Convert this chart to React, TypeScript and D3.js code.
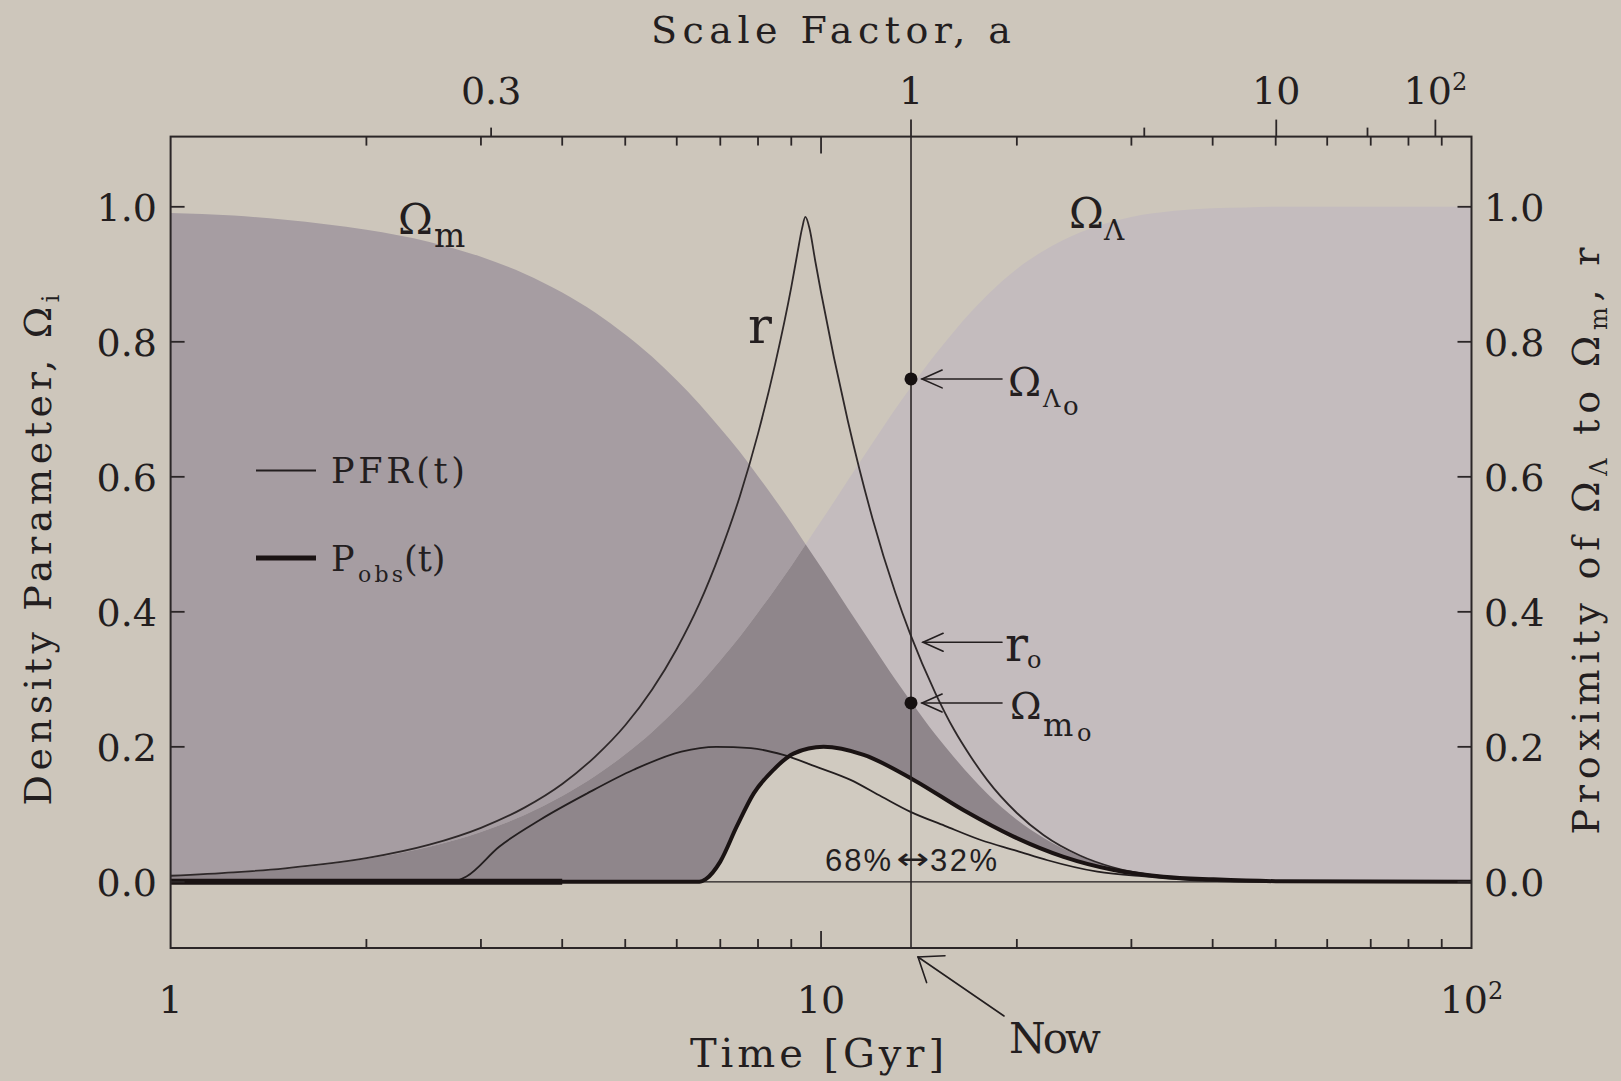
import React from "react";
import * as d3 from "d3";

// ---------- data ----------
// time samples (Gyr) for the density parameters
const times = [1, 1.25, 1.5, 2, 2.5, 3, 3.5, 4, 4.5, 5, 5.5, 6, 6.5, 7, 7.5, 8, 8.5, 9, 9.5, 10, 11, 12, 13, 13.7, 15, 16, 17, 18, 20, 22, 25, 28, 30, 35, 40, 45, 50, 60, 70, 80, 100];
const omegaM = [0.991, 0.987, 0.981, 0.966, 0.948, 0.926, 0.901, 0.873, 0.843, 0.811, 0.778, 0.743, 0.708, 0.672, 0.637, 0.601, 0.566, 0.532, 0.498, 0.466, 0.405, 0.35, 0.3, 0.269, 0.218, 0.185, 0.156, 0.131, 0.092, 0.065, 0.038, 0.022, 0.015, 0.006, 0.002, 0.001, 0.0004, 0, 0, 0, 0];
const omegaL = [0.009, 0.013, 0.019, 0.034, 0.052, 0.074, 0.099, 0.127, 0.157, 0.189, 0.222, 0.257, 0.292, 0.328, 0.363, 0.399, 0.434, 0.468, 0.502, 0.534, 0.595, 0.65, 0.7, 0.731, 0.782, 0.815, 0.844, 0.869, 0.908, 0.935, 0.962, 0.978, 0.985, 0.994, 0.998, 0.999, 1, 1, 1, 1, 1];

// proximity r
const rTimes = [1, 1.25, 1.5, 2, 2.5, 3, 3.5, 4, 4.5, 5, 5.5, 6, 6.5, 7, 7.5, 8, 8.5, 9, 9.2, 9.35, 9.46, 9.6, 9.8, 10, 11, 12, 13, 13.7, 15, 16, 17, 18, 20, 22, 25, 28, 30, 35, 40, 45, 50, 60, 100];
const rValues = [0.009, 0.014, 0.02, 0.035, 0.055, 0.08, 0.11, 0.145, 0.186, 0.232, 0.285, 0.345, 0.412, 0.488, 0.571, 0.664, 0.767, 0.881, 0.932, 0.968, 0.985, 0.968, 0.919, 0.873, 0.682, 0.538, 0.429, 0.368, 0.279, 0.226, 0.185, 0.151, 0.102, 0.069, 0.039, 0.022, 0.015, 0.006, 0.002, 0.001, 0.0004, 0, 0];

// planet formation rate PFR(t)
const pfrTimes = [1, 2.7, 2.85, 3.2, 3.7, 4.37, 5.15, 6.1, 6.9, 7.8, 8.75, 9.8, 11.1, 12.4, 13.7, 15.5, 17.6, 20, 22.3, 26.6, 31.7, 38, 50, 100];
const pfrValues = [0, 0, 0.008, 0.052, 0.092, 0.131, 0.166, 0.193, 0.2, 0.198, 0.188, 0.171, 0.151, 0.126, 0.104, 0.083, 0.062, 0.046, 0.032, 0.015, 0.0076, 0.002, 0, 0];

// observer probability Pobs(t)
const pobsTimes = [1, 6.5, 6.65, 7.0, 7.42, 7.88, 8.45, 9.07, 10.09, 11.63, 13.88, 16.57, 19.77, 23.6, 28.2, 33.6, 40.1, 50, 100];
const pobsValues = [0, 0, 0.004, 0.03, 0.082, 0.131, 0.166, 0.19, 0.2, 0.188, 0.151, 0.106, 0.067, 0.037, 0.0175, 0.0076, 0.0037, 0.001, 0];
const pobsThickSpan = [1, 4];

// axes
const densityTicks = [0, 0.2, 0.4, 0.6, 0.8, 1.0];
const densityTickLabels = ["0.0", "0.2", "0.4", "0.6", "0.8", "1.0"];
const timeLabelValues = [1, 10, 100];
const timeLabelBase = ["1", "10", "10"];
const timeLabelSup = ["", "", "2"];
const scaleFactorValues = [0.3, 1, 3, 10, 30, 100];
const scaleFactorTimes = [3.11, 13.75, 31.4, 50.1, 69.2, 88.0];
const scaleFactorMajor = [false, true, false, true, false, true];
const scaleFactorBase = ["0.3", "1", "", "10", "", "10"];
const scaleFactorSup = ["", "", "", "", "", "2"];

// present-day markers
const nowTime = 13.75;
const omegaL0 = 0.745;
const omegaM0 = 0.265;
const r0Arrow = 0.355;

// ---------- styling ----------
const BG = "#cdc6bb";
const C_M = "#a69da2";
const C_L = "#c4bcbe";
const C_ML = "#8f868b";
const C_POBS = "#d0cac0";
const INK = "#231e1f";
const SERIF = "'DejaVu Serif', 'Liberation Serif', serif";
const SANS = "'Liberation Sans', 'DejaVu Sans', sans-serif";

type P = [number, number];
const pair = (ts: number[], vs: number[]): P[] => ts.map((t, i) => [t, vs[i]] as P);

function Arrow({ tip, tail, len = 22, ang = 24, w = 1.6 }: { tip: P; tail: P; len?: number; ang?: number; w?: number }) {
  const th = Math.atan2(tail[1] - tip[1], tail[0] - tip[0]);
  const a = (ang * Math.PI) / 180;
  const a1: P = [tip[0] + len * Math.cos(th + a), tip[1] + len * Math.sin(th + a)];
  const a2: P = [tip[0] + len * Math.cos(th - a), tip[1] + len * Math.sin(th - a)];
  return (
    <g stroke={INK} strokeWidth={w} fill="none" strokeLinecap="round">
      <line x1={tail[0]} y1={tail[1]} x2={tip[0]} y2={tip[1]} />
      <polyline points={`${a1[0]},${a1[1]} ${tip[0]},${tip[1]} ${a2[0]},${a2[1]}`} />
    </g>
  );
}

export default function App() {
  const x = d3.scaleLog().domain([1, 100]).range([170.6, 1471.5]);
  const y = d3.scaleLinear().domain([-0.098, 1.104]).range([948, 136.6]);

  const area = d3
    .area<P>()
    .x((d) => x(d[0]))
    .y0(y(0))
    .y1((d) => y(d[1]))
    .curve(d3.curveMonotoneX);
  const line = d3
    .line<P>()
    .x((d) => x(d[0]))
    .y((d) => y(d[1]))
    .curve(d3.curveMonotoneX);

  const mPts = pair(times, omegaM);
  const lPts = pair(times, omegaL);
  const rPts = pair(rTimes, rValues);
  const pfrPts = pair(pfrTimes, pfrValues);
  const pobsPts = pair(pobsTimes, pobsValues);

  const x0 = x.range()[0];
  const x1 = x.range()[1];
  const yTop = y(y.domain()[1]);
  const yBot = y(y.domain()[0]);
  const xNow = x(nowTime);

  const timeTicks = x.ticks().filter((t) => t > 1 && t < 100);

  return (
    <div>
      <style>{`body{margin:0;background:${BG};}`}</style>
      <svg width={1621} height={1081} style={{ position: "absolute", left: 0, top: 0, display: "block" }}>
        <rect x={0} y={0} width={1621} height={1081} fill={BG} />
        <defs>
          <clipPath id="plotClip">
            <rect x={x0} y={yTop} width={x1 - x0} height={yBot - yTop} />
          </clipPath>
          <clipPath id="mClip">
            <path d={area(mPts) || ""} />
          </clipPath>
        </defs>

        <g clipPath="url(#plotClip)">
          <path d={area(mPts) || ""} fill={C_M} />
          <path d={area(lPts) || ""} fill={C_L} />
          <path d={area(lPts) || ""} fill={C_ML} clipPath="url(#mClip)" />
          <path d={area(pobsPts) || ""} fill={C_POBS} />

          {/* zero line */}
          <line x1={x0} x2={x1} y1={y(0)} y2={y(0)} stroke={INK} strokeWidth={1.4} />

          <path d={line(rPts) || ""} fill="none" stroke="#2e2829" strokeWidth={1.8} />
          <path d={line(pfrPts) || ""} fill="none" stroke={INK} strokeWidth={1.8} />
          <path d={line(pobsPts) || ""} fill="none" stroke="#1a1313" strokeWidth={4} strokeLinejoin="round" />
          <line x1={x(pobsThickSpan[0])} x2={x(pobsThickSpan[1])} y1={y(0)} y2={y(0)} stroke="#1a1313" strokeWidth={6} />
        </g>

        {/* now line */}
        <line x1={xNow} x2={xNow} y1={yTop} y2={yBot} stroke="#2b2627" strokeWidth={1.6} />
        <circle cx={xNow} cy={y(omegaL0)} r={6.5} fill="#151010" />
        <circle cx={xNow} cy={y(omegaM0)} r={6.5} fill="#151010" />
        <Arrow tip={[xNow + 11, y(omegaL0)]} tail={[xNow + 91, y(omegaL0)]} />
        <Arrow tip={[xNow + 12, y(r0Arrow)]} tail={[xNow + 91, y(r0Arrow)]} />
        <Arrow tip={[xNow + 11, y(omegaM0)]} tail={[xNow + 91, y(omegaM0)]} />
        <Arrow tip={[xNow + 7, yBot + 9]} tail={[xNow + 93, yBot + 68]} len={27} ang={37} />

        {/* frame */}
        <rect x={x0} y={yTop} width={x1 - x0} height={yBot - yTop} fill="none" stroke="#2b2627" strokeWidth={2} />

        {/* time ticks, bottom and top */}
        <g stroke="#2b2627" strokeWidth={1.8}>
          {timeTicks.map((t) => {
            const L = t === 10 ? 17 : 9;
            return (
              <g key={"tt" + t}>
                <line x1={x(t)} x2={x(t)} y1={yBot} y2={yBot - L} />
                <line x1={x(t)} x2={x(t)} y1={yTop} y2={yTop + L} />
              </g>
            );
          })}
          {scaleFactorTimes.map((t, i) => (
            <line key={"sf" + i} x1={x(t)} x2={x(t)} y1={yTop} y2={yTop - (scaleFactorMajor[i] ? 17 : 9)} />
          ))}
          {densityTicks.map((v) => (
            <g key={"dt" + v}>
              <line x1={x0} x2={x0 + 14} y1={y(v)} y2={y(v)} />
              <line x1={x1} x2={x1 - 14} y1={y(v)} y2={y(v)} />
            </g>
          ))}
        </g>

        {/* tick labels */}
        <g fontFamily={SERIF} fill={INK} fontSize={38}>
          {densityTicks.map((v, i) => (
            <g key={"dl" + v}>
              <text x={157} y={y(v) + 14} textAnchor="end">{densityTickLabels[i]}</text>
              <text x={1484} y={y(v) + 14} textAnchor="start">{densityTickLabels[i]}</text>
            </g>
          ))}
          {timeLabelValues.map((t, i) => (
            <text key={"tl" + t} x={x(t)} y={1013} textAnchor="middle">
              {timeLabelBase[i]}
              {timeLabelSup[i] && (
                <tspan fontSize={24} dy={-14}>{timeLabelSup[i]}</tspan>
              )}
            </text>
          ))}
          {scaleFactorTimes.map((t, i) =>
            scaleFactorBase[i] ? (
              <text key={"sl" + i} x={x(t)} y={104} textAnchor="middle">
                {scaleFactorBase[i]}
                {scaleFactorSup[i] && (
                  <tspan fontSize={24} dy={-14}>{scaleFactorSup[i]}</tspan>
                )}
              </text>
            ) : null
          )}
        </g>

        {/* axis titles */}
        <g fontFamily={SERIF} fill={INK}>
          <text x={831} y={43} fontSize={38} textAnchor="middle" textLength={360} lengthAdjust="spacing">Scale Factor, a</text>
          <text x={817} y={1067} fontSize={40} textAnchor="middle" textLength={254} lengthAdjust="spacing">Time [Gyr]</text>
          <text transform="translate(51,550) rotate(-90)" fontSize={38} textAnchor="middle" textLength={511} lengthAdjust="spacing">
            Density Parameter, Ω<tspan fontSize={24} dy={8}>i</tspan>
          </text>
          <text transform="translate(1599,541) rotate(-90)" fontSize={38} textAnchor="middle" textLength={587} lengthAdjust="spacing">
            Proximity of Ω<tspan fontSize={24} dy={8}>Λ</tspan>
            <tspan dy={-8}> to Ω</tspan>
            <tspan fontSize={24} dy={8}>m</tspan>
            <tspan dy={-8}>, r</tspan>
          </text>
        </g>

        {/* curve labels */}
        <g fontFamily={SERIF} fill={INK}>
          <text x={398} y={234} fontSize={42}>Ω</text>
          <text x={434} y={247} fontSize={33}>m</text>
          <text x={1069} y={228} fontSize={42}>Ω</text>
          <text x={1104} y={240} fontSize={28}>Λ</text>
          <text x={748} y={343} fontSize={50}>r</text>

          <text x={1008} y={396} fontSize={40}>Ω</text>
          <text x={1043} y={407} fontSize={24}>Λ</text>
          <text x={1063} y={415} fontSize={26}>o</text>

          <text x={1005} y={661} fontSize={48}>r</text>
          <text x={1027} y={668} fontSize={24}>o</text>

          <text x={1010} y={719} fontSize={38}>Ω</text>
          <text x={1043} y={736} fontSize={32}>m</text>
          <text x={1077} y={741} fontSize={24}>o</text>

          <text x={1009} y={1053} fontSize={42} textLength={92} lengthAdjust="spacing">Now</text>
        </g>
        <g fontFamily={SANS} fill={INK} fontSize={31}>
          <text x={825} y={871} textLength={66} lengthAdjust="spacing">68%</text>
          <text x={896} y={869} fontFamily="'DejaVu Sans', sans-serif" fontSize={30} textLength={33} lengthAdjust="spacingAndGlyphs">↔</text>
          <text x={930} y={871} textLength={67} lengthAdjust="spacing">32%</text>
        </g>

        {/* legend */}
        <line x1={256} x2={316} y1={470.5} y2={470.5} stroke={INK} strokeWidth={1.8} />
        <line x1={256} x2={316} y1={558} y2={558} stroke="#1a1313" strokeWidth={5} />
        <g fontFamily={SERIF} fill={INK}>
          <text x={331} y={483} fontSize={35} textLength={134} lengthAdjust="spacing">PFR(t)</text>
          <text x={331} y={571} fontSize={35}>P</text>
          <text x={358} y={582} fontSize={22} textLength={45} lengthAdjust="spacing">obs</text>
          <text x={404} y={571} fontSize={35}>(t)</text>
        </g>
      </svg>
    </div>
  );
}
